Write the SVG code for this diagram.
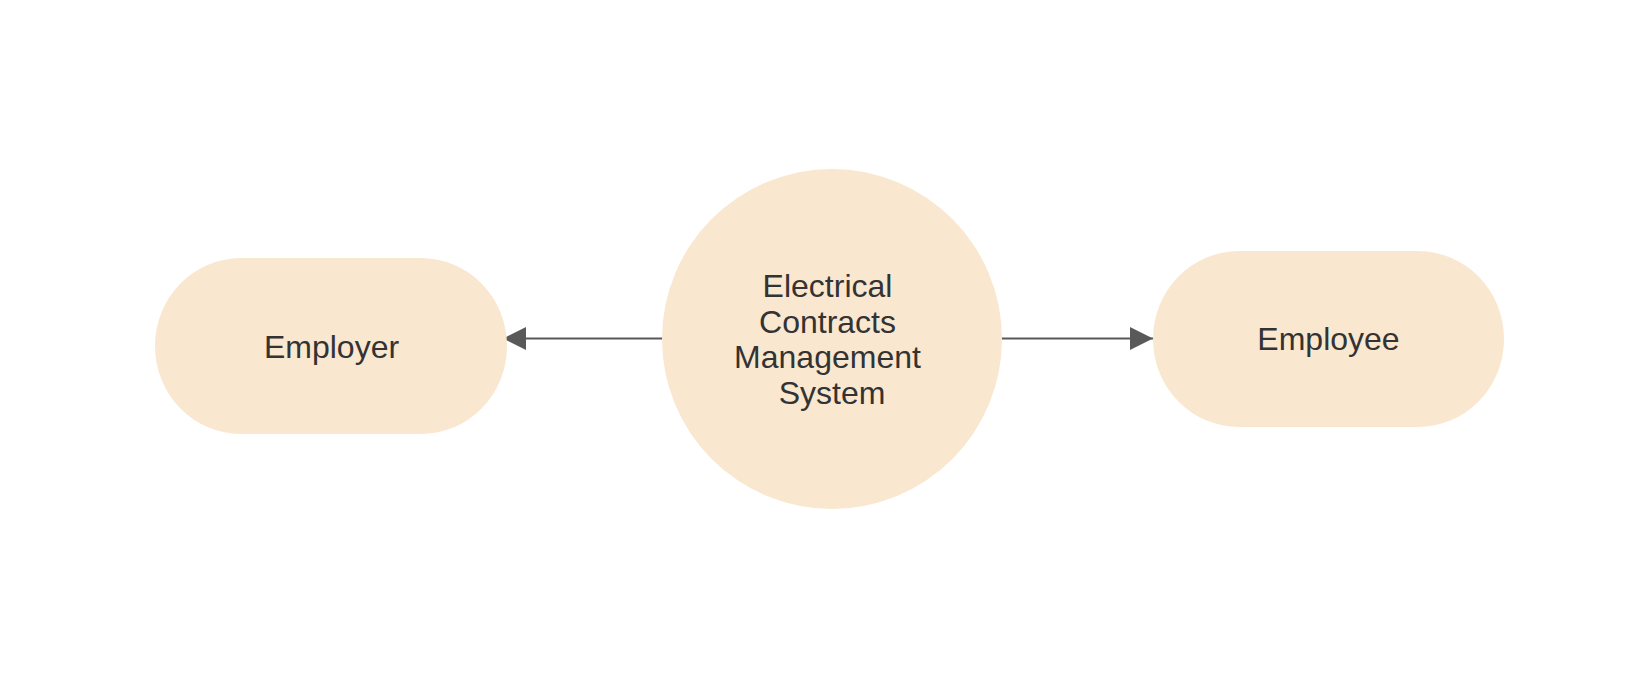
<svg xmlns="http://www.w3.org/2000/svg" width="1627" height="684" viewBox="0 0 1627 684">
  <style>
    .node { fill: #fae7d0; stroke: none; }
    .label { font-family: "Liberation Sans", Arial, sans-serif; font-size: 32px; fill: #333333; text-anchor: middle; }
    .edge { stroke: #595959; stroke-width: 2; fill: none; }
  </style>
  <defs>
    <marker id="arrow" viewBox="0 0 23 23" refX="23" refY="11.5" markerWidth="23" markerHeight="23" markerUnits="userSpaceOnUse" orient="auto">
      <path d="M0,0 L23,11.5 L0,23 Z" fill="#595959"/>
    </marker>
  </defs>
  <rect width="1627" height="684" fill="#ffffff"/>
  <g id="connectors">
    <line class="edge" x1="662" y1="338.5" x2="503" y2="338.5" marker-end="url(#arrow)"/>
    <line class="edge" x1="1002" y1="338.5" x2="1153" y2="338.5" marker-end="url(#arrow)"/>
  </g>
  <g id="node-system">
    <circle class="node" cx="832" cy="339" r="170"/>
    <text class="label" x="827.5" y="297">Electrical</text>
    <text class="label" x="827.5" y="332.5">Contracts</text>
    <text class="label" x="827.5" y="368">Management</text>
    <text class="label" x="832" y="403.5">System</text>
  </g>
  <g id="node-employer">
    <rect class="node" x="155" y="258" width="352" height="176" rx="86" ry="88"/>
    <text class="label" x="331.5" y="358">Employer</text>
  </g>
  <g id="node-employee">
    <rect class="node" x="1153" y="251" width="351" height="176" rx="86" ry="88"/>
    <text class="label" x="1328.5" y="350">Employee</text>
  </g>
</svg>
